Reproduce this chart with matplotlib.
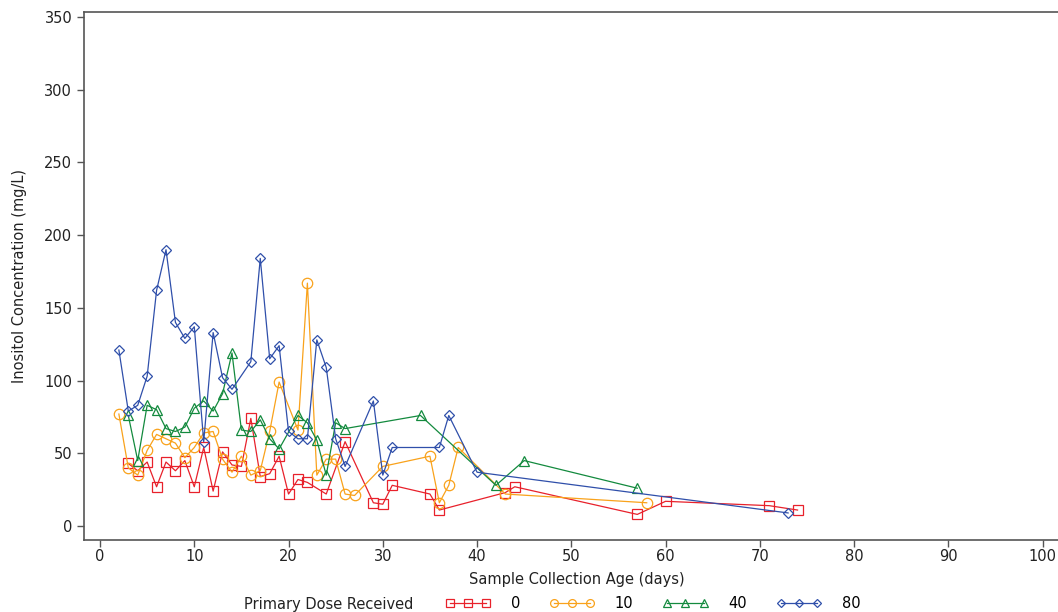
import matplotlib.pyplot as plt
from matplotlib.lines import Line2D

# Inositol concentration (mg/L) by sample collection age (days), per primary dose group
dose_labels = ['0', '10', '40', '80']

age_0 = [3, 4, 5, 6, 7, 8, 9, 10, 11, 12, 13, 14, 15, 16, 17, 18, 19, 20, 21, 22, 24, 26,
         29, 30, 31, 35, 36, 43, 44, 57, 60, 71, 74]
conc_0 = [43, 38, 44, 27, 44, 38, 45, 27, 54, 24, 51, 42, 41, 74, 34, 36, 48, 22, 32, 30, 22, 58,
          16, 15, 28, 22, 11, 23, 27, 8, 17, 14, 11]

age_10 = [2, 3, 4, 5, 6, 7, 8, 9, 10, 11, 12, 13, 14, 15, 16, 17, 18, 19, 21, 22, 23, 24,
          25, 26, 27, 30, 35, 36, 37, 38, 43, 58]
conc_10 = [77, 40, 35, 52, 63, 60, 57, 47, 54, 64, 65, 46, 37, 48, 35, 38, 65, 99, 66, 167, 35, 46,
           46, 22, 21, 41, 48, 16, 28, 54, 22, 16]

age_40 = [3, 4, 5, 6, 7, 8, 9, 10, 11, 12, 13, 14, 15, 16, 17, 18, 19, 21, 22, 23, 24, 25,
          26, 34, 42, 45, 57]
conc_40 = [76, 45, 83, 80, 67, 65, 68, 81, 86, 79, 91, 119, 66, 65, 73, 60, 53, 76, 71, 59, 35, 71,
           67, 76, 28, 45, 26]

age_80 = [2, 3, 4, 5, 6, 7, 8, 9, 10, 11, 12, 13, 14, 16, 17, 18, 19, 20, 21, 22, 23, 24,
          25, 26, 29, 30, 31, 36, 37, 40, 73]
conc_80 = [121, 79, 83, 103, 162, 190, 140, 129, 137, 58, 133, 102, 94, 113, 184, 115, 124, 65, 60,
           60, 128, 109, 60, 41, 86, 35, 54, 54, 76, 37, 9]

series = [(age_0, conc_0), (age_10, conc_10), (age_40, conc_40), (age_80, conc_80)]
colors = ['#E8212B', '#F9A21B', '#138A3E', '#2F4FAA']
markers = ['s', 'o', '^', 'D']
sizes = [7, 7.5, 7.5, 5.5]

plt.rcParams['font.family'] = 'DejaVu Sans'
fig = plt.figure(figsize=(10.58, 6.12), dpi=100)
ax = fig.add_axes([84 / 1058, 72 / 612, 985 / 1058, 528 / 612])

handles = []
for (xs, ys), c, m, s, lab in zip(series, colors, markers, sizes, dose_labels):
    ax.plot(xs, ys, color=c, linewidth=0.9, marker=m, markersize=s,
            markerfacecolor='none', markeredgecolor=c, markeredgewidth=0.9)
    handles.append(Line2D([], [], color=c, linewidth=0.9, marker=m, markersize=s * 0.75,
                          markerfacecolor='none', markeredgecolor=c, markeredgewidth=0.9))

ax.set_xlim(-1.7, 102.8)
ax.set_ylim(-9.6, 353.4)
ax.set_xticks(range(0, 101, 10))
ax.set_yticks(range(0, 351, 50))
for sp in ax.spines.values():
    sp.set_color('#555555')
    sp.set_linewidth(1.2)
ax.tick_params(direction='out', length=5, width=1, color='#555555',
               labelsize=10.5, labelcolor='#222222')
ax.tick_params(axis='x', pad=1.5)
ax.set_xlabel('Sample Collection Age (days)', fontsize=10.5, color='#222222', labelpad=6)
ax.set_ylabel('Inositol Concentration (mg/L)', fontsize=10.5, color='#222222', labelpad=12)

fig.text(413 / 1058, 8 / 612, 'Primary Dose Received', ha='right', va='center',
         fontsize=10.5, color='#222222')
fig.legend(handles, dose_labels, loc='center left', bbox_to_anchor=(432 / 1058, 8 / 612),
           ncol=4, frameon=False, numpoints=3, handlelength=3.1, handletextpad=1.4,
           columnspacing=2.0, fontsize=10.5)

plt.savefig('out.png', dpi=100)
